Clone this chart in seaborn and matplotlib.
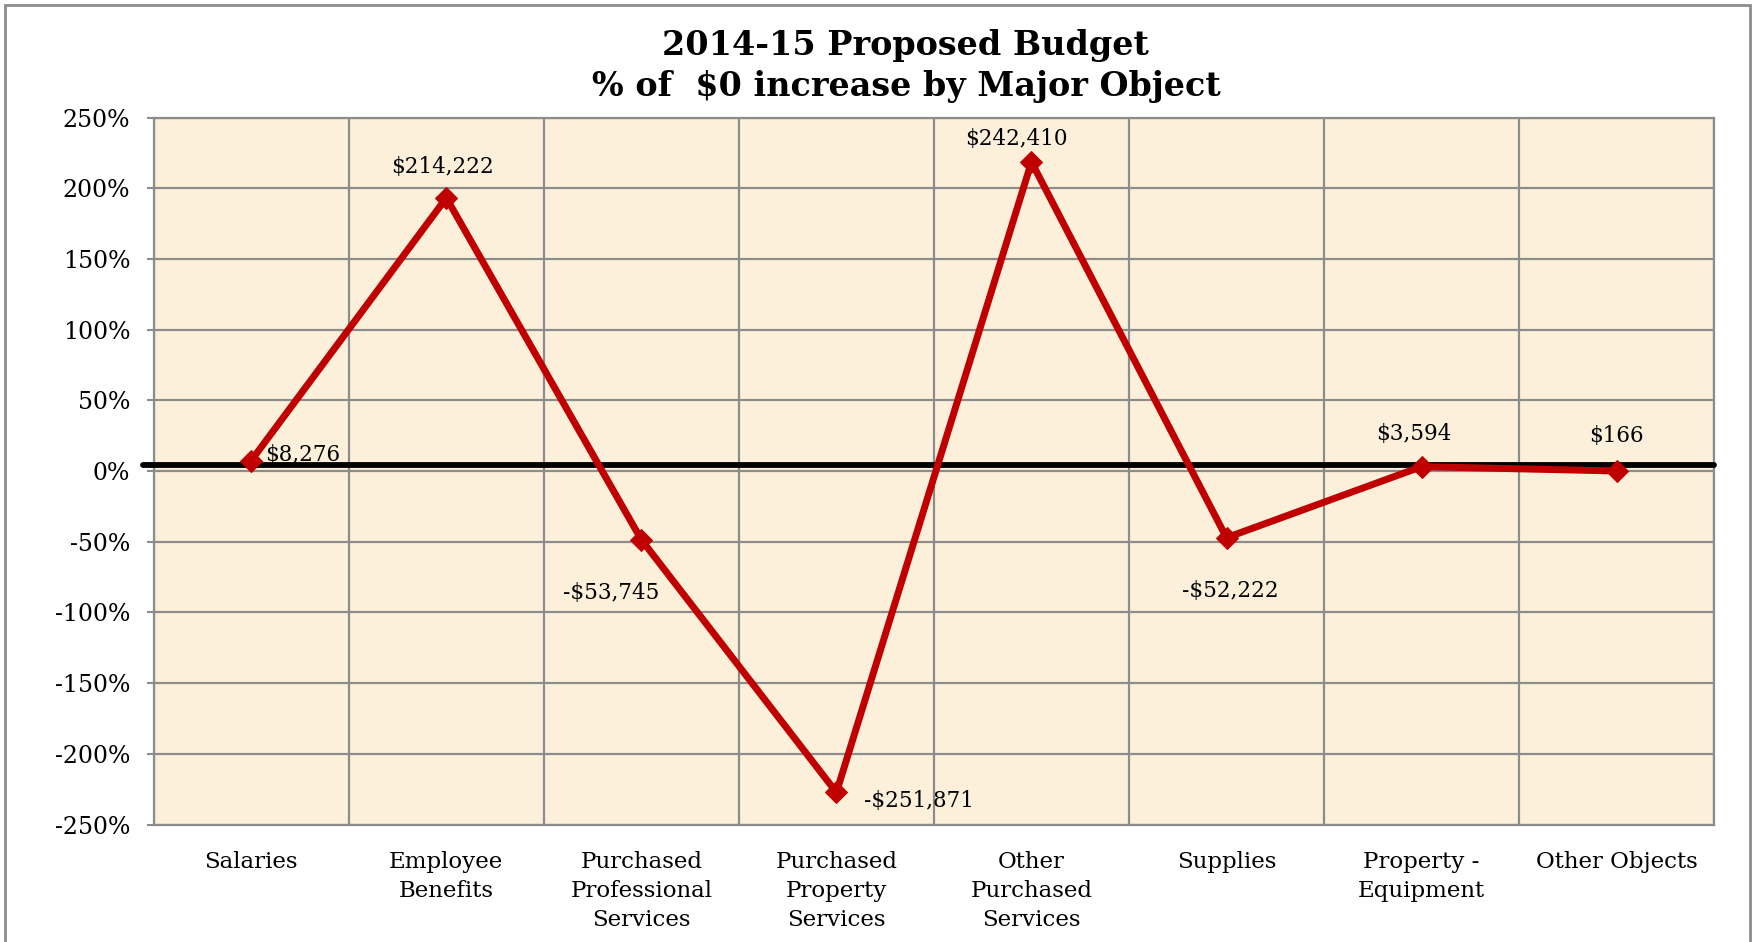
import numpy as np
import pandas as pd
import matplotlib
matplotlib.use('Agg')
import matplotlib.pyplot as plt
import seaborn as sns
from matplotlib.patches import Rectangle

categories = ['Salaries', 'Employee\nBenefits', 'Purchased\nProfessional\nServices',
              'Purchased\nProperty\nServices', 'Other\nPurchased\nServices',
              'Supplies', 'Property -\nEquipment', 'Other Objects']
pct_change = [7.5, 193.3, -48.5, -227.3, 218.7, -47.1, 3.2, 0.1]
dollar_labels = ['$8,276', '$214,222', '-$53,745', '-$251,871',
                 '$242,410', '-$52,222', '$3,594', '$166']
ref_level = 4.0

# label offsets in pixels (dx, dy) and alignment
label_pos = [(14, 6, 'left'), (-4, 31, 'center'), (-30, -53, 'center'), (28, -9, 'left'),
             (-15, 23, 'center'), (4, -53, 'center'), (-8, 33, 'center'), (0, 35, 'center')]

df = pd.DataFrame({'x': np.arange(len(categories)), 'pct': pct_change})

sns.set_style('white')
plt.rcParams['font.family'] = ['DejaVu Serif']
plt.rcParams['text.color'] = 'black'
plt.rcParams['xtick.color'] = 'black'
plt.rcParams['ytick.color'] = 'black'

fig = plt.figure(figsize=(17.59, 9.42), dpi=100)
ax = fig.add_axes([0.0874, 0.1247, 0.8871, 0.7503])
ax.set_facecolor('#FCF0DA')

ax.axhline(ref_level, color='black', lw=4.2, xmin=-0.007, xmax=1.0, clip_on=False, zorder=3)

sns.lineplot(data=df, x='x', y='pct', ax=ax, color='#C00000', lw=5,
             marker='D', markersize=11, markeredgecolor='#C00000', zorder=4)

for i, (lab, (dx, dy, ha)) in enumerate(zip(dollar_labels, label_pos)):
    ax.annotate(lab.replace('$', r'\$'), (i, pct_change[i]), xytext=(dx, dy),
                textcoords='offset pixels', ha=ha, va='center', fontsize=15.5,
                color='black', zorder=5)

ax.set_xlim(-0.5, len(categories) - 0.5)
ax.set_ylim(-250, 250)
ax.set_yticks(np.arange(-250, 251, 50))
ax.set_yticklabels([f'{v}%' for v in range(-250, 251, 50)], fontsize=17)
ax.set_xticks(np.arange(len(categories)))
ax.set_xticklabels(categories, fontsize=16.5, linespacing=1.4, va='top')
ax.set_xticks(np.arange(-0.5, len(categories)), minor=True)
ax.tick_params(axis='x', which='both', length=0, pad=19)
ax.tick_params(axis='y', length=5, width=1.5, color='#8C8C8C', pad=12, left=True,
               labelcolor='black')
ax.grid(True, axis='y', color='#8C8C8C', lw=1.6)
ax.grid(True, axis='x', which='minor', color='#8C8C8C', lw=1.6)
ax.grid(False, axis='x', which='major')
ax.set_axisbelow(True)
ax.set_xlabel('')
ax.set_ylabel('')
for s in ax.spines.values():
    s.set_color('#8C8C8C')
    s.set_linewidth(1.6)

fig.text(0.515, 0.93, '2014-15 Proposed Budget\n% of  \\$0 increase by Major Object',
         ha='center', va='center', fontsize=24, fontweight='bold', linespacing=1.3,
         color='black')

fig.patches.append(Rectangle((5 / 1759, -0.05), 1745 / 1759, 1.05 - 5 / 942, transform=fig.transFigure,
                             fill=False, edgecolor='#8C8C8C', lw=2))

fig.savefig('out.png', dpi=100)
